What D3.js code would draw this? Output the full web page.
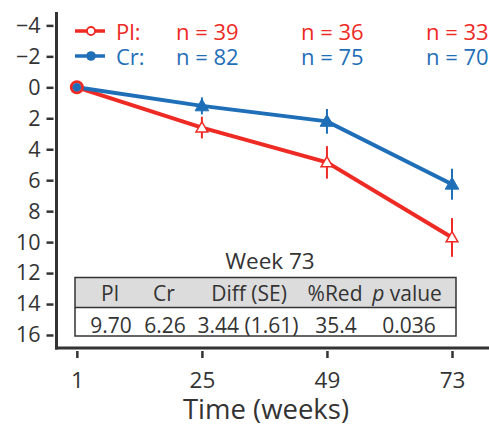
<!DOCTYPE html>
<html>
<head>
<meta charset="utf-8">
<script src="https://cdn.jsdelivr.net/npm/d3@7"></script>
<style>
  body { margin: 0; background: #fff; }
  text { font-family: "Open Sans", "Noto Sans", sans-serif; }
</style>
</head>
<body>
<svg id="chart" width="489" height="426"></svg>
<script>
// data
var weeks = [1, 25, 49, 73];
var plMean = [0, 2.6, 4.85, 9.70];
var plErr  = [0, 0.7, 1.05, 1.25];
var crMean = [0, 1.2, 2.2, 6.26];
var crErr  = [0, 0.55, 0.8, 1.0];
var plN = [39, 36, 33];
var crN = [82, 75, 70];
var yTicks = [-4, -2, 0, 2, 4, 6, 8, 10, 12, 14, 16];
var tableHead = ["Pl", "Cr", "Diff (SE)", "%Red", "p value"];
var tableRow  = ["9.70", "6.26", "3.44 (1.61)", "35.4", "0.036"];

var red = "#ee2a24", blue = "#1f6fb8", ink = "#333";

var svg = d3.select("#chart");

var x = d3.scaleLinear().domain([-3, 80.1]).range([56, 489]);
var y = d3.scaleLinear().domain([-4.8, 16.84]).range([13, 348]);

// axes
svg.append("line").attr("x1", 56.5).attr("x2", 56.5).attr("y1", 12).attr("y2", 349.5)
  .attr("stroke", ink).attr("stroke-width", 3);
svg.append("line").attr("x1", 55).attr("x2", 489).attr("y1", 348).attr("y2", 348)
  .attr("stroke", ink).attr("stroke-width", 3);

var ya = svg.append("g").attr("transform", "translate(53.5,0)")
  .call(d3.axisLeft(y).tickValues(yTicks).tickSize(7).tickPadding(6)
    .tickFormat(function(d){ return d < 0 ? "\u2212" + (-d) : d; }));
ya.select(".domain").remove();
ya.selectAll("line").attr("stroke", ink).attr("stroke-width", 2.5);
ya.selectAll("text").attr("font-size", 21.5).attr("fill", ink)
  .attr("font-family", "'Open Sans', sans-serif");

var xa = svg.append("g").attr("transform", "translate(0,351)")
  .call(d3.axisBottom(x).tickValues(weeks).tickSize(7).tickPadding(14));
xa.select(".domain").remove();
xa.selectAll("line").attr("stroke", ink).attr("stroke-width", 2.5);
xa.selectAll("text").attr("font-size", 22.5).attr("fill", ink)
  .attr("font-family", "'Open Sans', sans-serif");

svg.append("text").attr("x", 266).attr("y", 418.5).attr("text-anchor", "middle")
  .attr("font-size", 27.5).attr("fill", ink).text("Time (weeks)");

// table
var tx0 = 75, tx1 = 456, ty0 = 277.5, ty1 = 307.5, ty2 = 336;
var colX = [110, 164, 249, 335, 407];
svg.append("text").attr("x", 270).attr("y", 268.5).attr("text-anchor", "middle")
  .attr("font-size", 22.5).attr("fill", ink).text("Week 73");
svg.append("rect").attr("x", tx0).attr("y", ty0).attr("width", tx1 - tx0).attr("height", ty1 - ty0)
  .attr("fill", "#dcdcdc");
svg.append("rect").attr("x", tx0).attr("y", ty0).attr("width", tx1 - tx0).attr("height", ty2 - ty0)
  .attr("fill", "none").attr("stroke", ink).attr("stroke-width", 1.5);
svg.append("line").attr("x1", tx0).attr("x2", tx1).attr("y1", ty1).attr("y2", ty1)
  .attr("stroke", ink).attr("stroke-width", 1.5);
tableHead.forEach(function(h, i){
  var t = svg.append("text").attr("x", colX[i]).attr("y", 301).attr("text-anchor", "middle")
    .attr("font-size", 21).attr("fill", ink);
  if (h == "p value") {
    t.append("tspan").attr("font-style", "italic").text("p");
    t.append("tspan").text(" value");
  } else t.text(h);
});
var valX = [111, 165, 248, 336, 409];
tableRow.forEach(function(v, i){
  svg.append("text").attr("x", valX[i]).attr("y", 333).attr("text-anchor", "middle")
    .attr("font-size", 21).attr("fill", ink).text(v);
});

// series
function series(mean, err, color, filled) {
  var pts = weeks.map(function(w, i){ return {w: w, m: mean[i], e: err[i]}; });
  var line = d3.line().x(function(d){ return x(d.w); }).y(function(d){ return y(d.m); });
  svg.append("path").datum(pts).attr("d", line).attr("fill", "none")
    .attr("stroke", color).attr("stroke-width", 4);
  var rest = pts.slice(1);
  svg.selectAll(null).data(rest).enter().append("line")
    .attr("x1", function(d){ return x(d.w); }).attr("x2", function(d){ return x(d.w); })
    .attr("y1", function(d){ return y(d.m - d.e); }).attr("y2", function(d){ return y(d.m + d.e); })
    .attr("stroke", color).attr("stroke-width", 2);
  var tri = d3.symbol().type(d3.symbolTriangle).size(filled ? 80 : 60);
  svg.selectAll(null).data(rest).enter().append("path")
    .attr("d", tri)
    .attr("transform", function(d){ return "translate(" + x(d.w) + "," + (y(d.m) + 1) + ")"; })
    .attr("fill", filled ? color : "#fff").attr("stroke", color).attr("stroke-width", filled ? 1 : 1.5);
}
series(plMean, plErr, red, false);
series(crMean, crErr, blue, true);
// start markers: red open circle with blue dot on top
svg.append("circle").attr("cx", x(weeks[0])).attr("cy", y(plMean[0])).attr("r", 5.5)
  .attr("fill", "#fff").attr("stroke", red).attr("stroke-width", 3);
svg.append("circle").attr("cx", x(weeks[0])).attr("cy", y(crMean[0])).attr("r", 4.3)
  .attr("fill", blue);

// legend
var legend = [
  {label: "Pl:", n: plN, color: red, filled: false, y: 31, base: 40},
  {label: "Cr:", n: crN, color: blue, filled: true, y: 56, base: 64.5}
];
var nX = [176, 301, 426];
legend.forEach(function(l){
  svg.append("line").attr("x1", 75).attr("x2", 105).attr("y1", l.y).attr("y2", l.y)
    .attr("stroke", l.color).attr("stroke-width", 3.5);
  svg.append("circle").attr("cx", 91).attr("cy", l.y).attr("r", l.filled ? 4.8 : 4)
    .attr("fill", l.filled ? l.color : "#fff").attr("stroke", l.color).attr("stroke-width", l.filled ? 0 : 1.8);
  svg.append("text").attr("x", 116).attr("y", l.base).attr("font-size", 22)
    .attr("fill", l.color).text(l.label);
  l.n.forEach(function(n, i){
    svg.append("text").attr("x", nX[i]).attr("y", l.base).attr("font-size", 22)
      .attr("fill", l.color).text("n = " + n);
  });
});
</script>
</body>
</html>
